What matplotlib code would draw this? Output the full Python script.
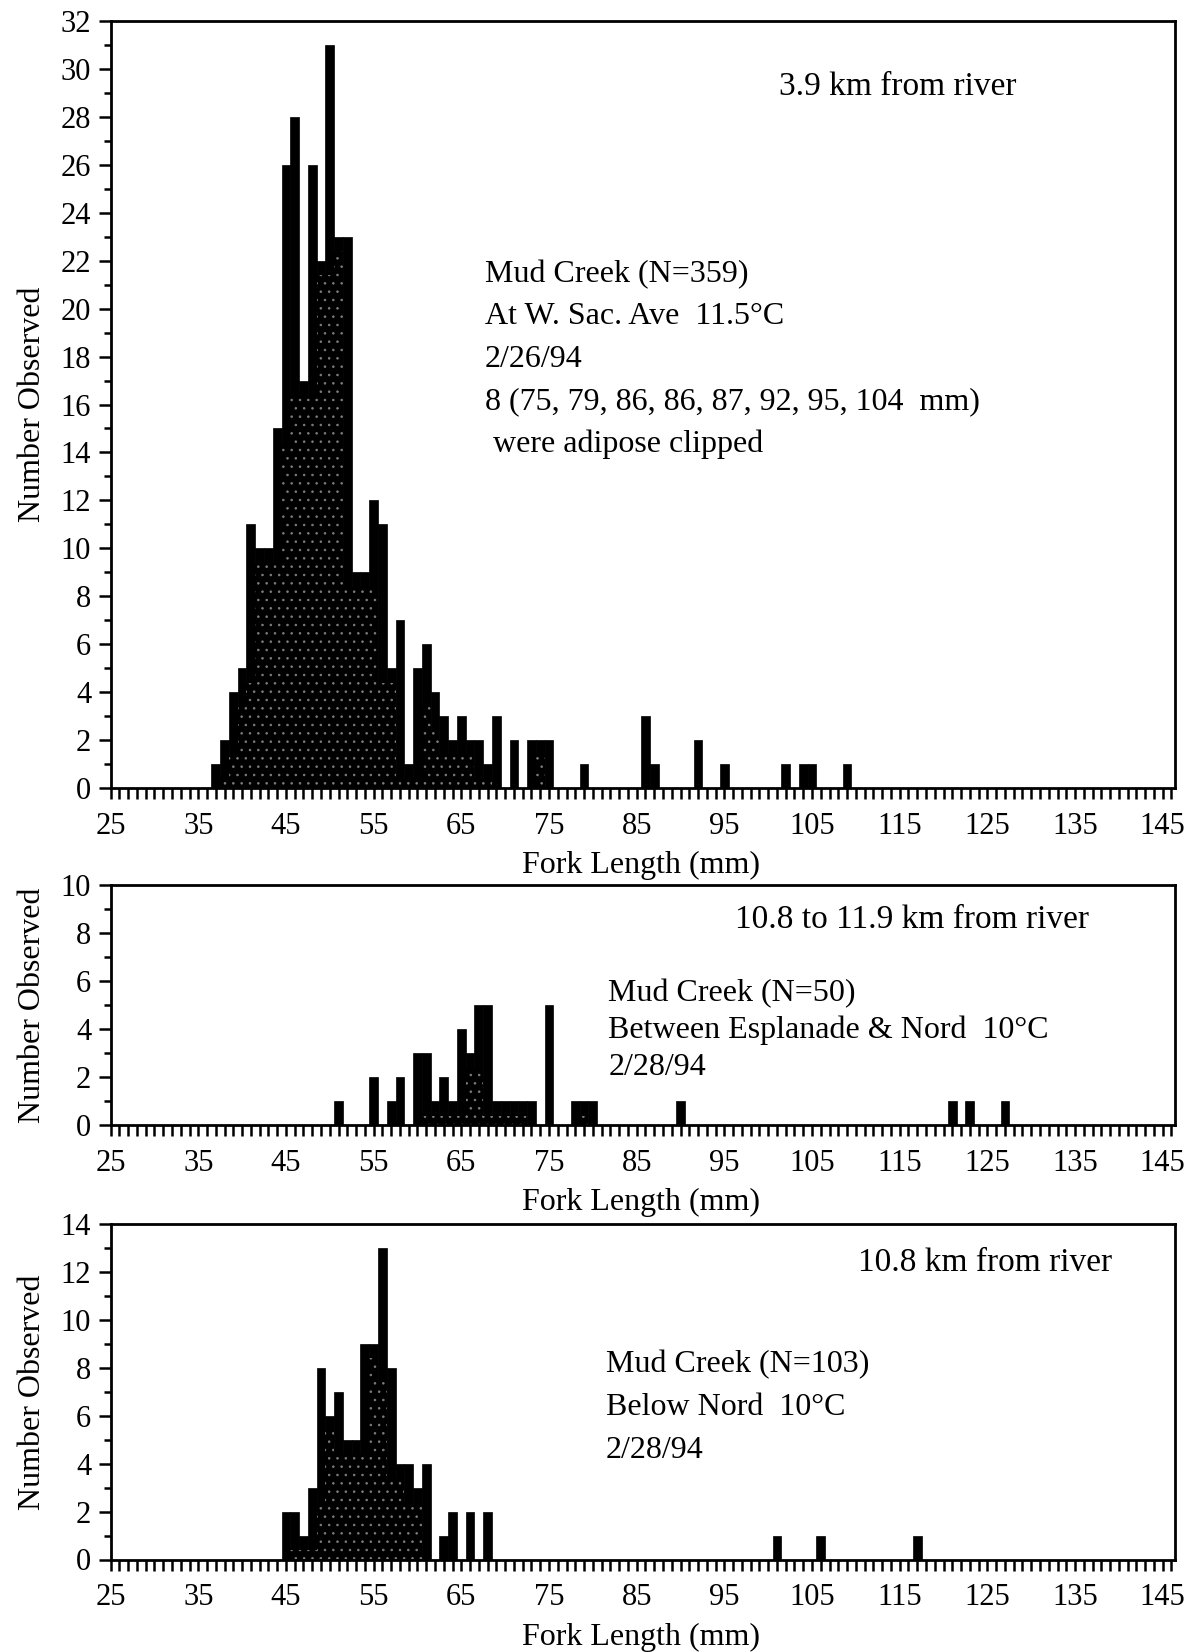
import numpy as np
import matplotlib
matplotlib.use("Agg")
import matplotlib.pyplot as plt
from matplotlib.ticker import MultipleLocator, FixedLocator

plt.rcParams['font.family'] = ['Liberation Serif', 'DejaVu Serif']
plt.rcParams['hatch.linewidth'] = 0.6

# fork length (mm) and number observed for each sample
top_lengths = [37, 38, 39, 40, 41, 42, 43, 44, 45, 46, 47, 48, 49, 50, 51, 52, 53, 54, 55, 56,
               57, 58, 59, 60, 61, 62, 63, 64, 65, 66, 67, 68, 69, 71, 73, 74, 75,
               79, 86, 87, 92, 95, 102, 104, 105, 109]
top_counts = [1, 2, 4, 5, 11, 10, 10, 15, 26, 28, 17, 26, 22, 31, 23, 23, 9, 9, 12, 11,
              5, 7, 1, 5, 6, 4, 3, 2, 3, 2, 2, 1, 3, 2, 2, 2, 2,
              1, 3, 1, 2, 1, 1, 1, 1, 1]

mid_lengths = [51, 55, 57, 58, 60, 61, 62, 63, 64, 65, 66, 67, 68, 69, 70, 71, 72, 73, 75,
               78, 79, 80, 90, 121, 123, 127]
mid_counts = [1, 2, 1, 2, 3, 3, 1, 2, 1, 4, 3, 5, 5, 1, 1, 1, 1, 1, 5,
              1, 1, 1, 1, 1, 1, 1]

bot_lengths = [45, 46, 47, 48, 49, 50, 51, 52, 53, 54, 55, 56, 57, 58, 59, 60, 61, 63, 64,
               66, 68, 101, 106, 117]
bot_counts = [2, 2, 1, 3, 8, 6, 7, 5, 5, 9, 9, 13, 8, 4, 4, 3, 4, 1, 2,
              2, 2, 1, 1, 1]

top_notes = ["Mud Creek (N=359)", "At W. Sac. Ave  11.5\u00b0C", "2/26/94",
             "8 (75, 79, 86, 86, 87, 92, 95, 104  mm)", " were adipose clipped"]
mid_notes = ["Mud Creek (N=50)", "Between Esplanade & Nord  10\u00b0C", "2/28/94"]
bot_notes = ["Mud Creek (N=103)", "Below Nord  10\u00b0C", "2/28/94"]

W, H = 1196, 1652
fig = plt.figure(figsize=(W / 100, H / 100), dpi=100)


def box(l, t, r, b):
    return [l / W, 1 - b / H, (r - l) / W, (b - t) / H]


def panel(rect, lengths, counts, ymax, title, title_xy, notes, notes_xy, line_gap):
    ax = fig.add_axes(rect)
    lengths = np.array(lengths)
    counts = np.array(counts)
    ax.bar(lengths, counts, width=1.0, color='black', edgecolor='black', linewidth=0.5)

    # stippled inner part where a bar has neighbours on both sides
    grid = np.arange(20, 150)
    full = np.zeros(len(grid))
    full[lengths - 20] = counts
    inner = np.minimum(full, np.minimum(np.roll(full, 1), np.roll(full, -1))) - 0.6
    inner = np.clip(inner, 0, None)
    ax.bar(grid, inner, width=1.0, color='black', edgecolor='#7e7e7e',
           linewidth=0, hatch='..')

    ax.set_xlim(25, 146.4)
    ax.set_ylim(0, ymax)
    ax.xaxis.set_major_locator(FixedLocator(np.arange(25, 146, 10)))
    ax.xaxis.set_minor_locator(FixedLocator(np.arange(25, 147, 1)))
    ax.yaxis.set_major_locator(MultipleLocator(2))
    ax.yaxis.set_minor_locator(MultipleLocator(1))
    ax.tick_params(axis='x', which='both', direction='out', length=8, width=1.8,
                   labelsize=22, pad=9, colors='black')
    ax.tick_params(axis='y', which='major', direction='out', length=9, width=1.8,
                   labelsize=22, pad=5)
    ax.tick_params(axis='y', which='minor', direction='out', length=5, width=1.8)
    for s in ax.spines.values():
        s.set_linewidth(2.0)

    h_px = rect[3] * H
    ax.set_xlabel("Fork Length (mm)", fontsize=23)
    ax.xaxis.set_label_coords(0.498, -63 / h_px)
    ax.set_ylabel("Number Observed", fontsize=23)
    ax.yaxis.set_label_coords(-0.06, 0.5)

    ax.text(title_xy[0], title_xy[1], title, transform=ax.transAxes,
            ha='center', va='center', fontsize=24)
    for i, line in enumerate(notes):
        ax.text(notes_xy[0], notes_xy[1] - i * line_gap, line, transform=ax.transAxes,
                ha='left', va='center', fontsize=23)
    return ax


panel(box(110.6, 21, 1175, 788), top_lengths, top_counts, 32,
      "3.9 km from river", (0.7395, 0.914), top_notes, (0.3515, 0.670), 0.0556)
panel(box(110.6, 885, 1175, 1125.4), mid_lengths, mid_counts, 10,
      "10.8 to 11.9 km from river", (0.7525, 0.857), mid_notes, (0.4675, 0.548), 0.1535)
panel(box(110.6, 1224.4, 1175, 1559.5), bot_lengths, bot_counts, 14,
      "10.8 km from river", (0.8215, 0.886), bot_notes, (0.4653, 0.583), 0.1295)

fig.savefig("out.png", dpi=100)
